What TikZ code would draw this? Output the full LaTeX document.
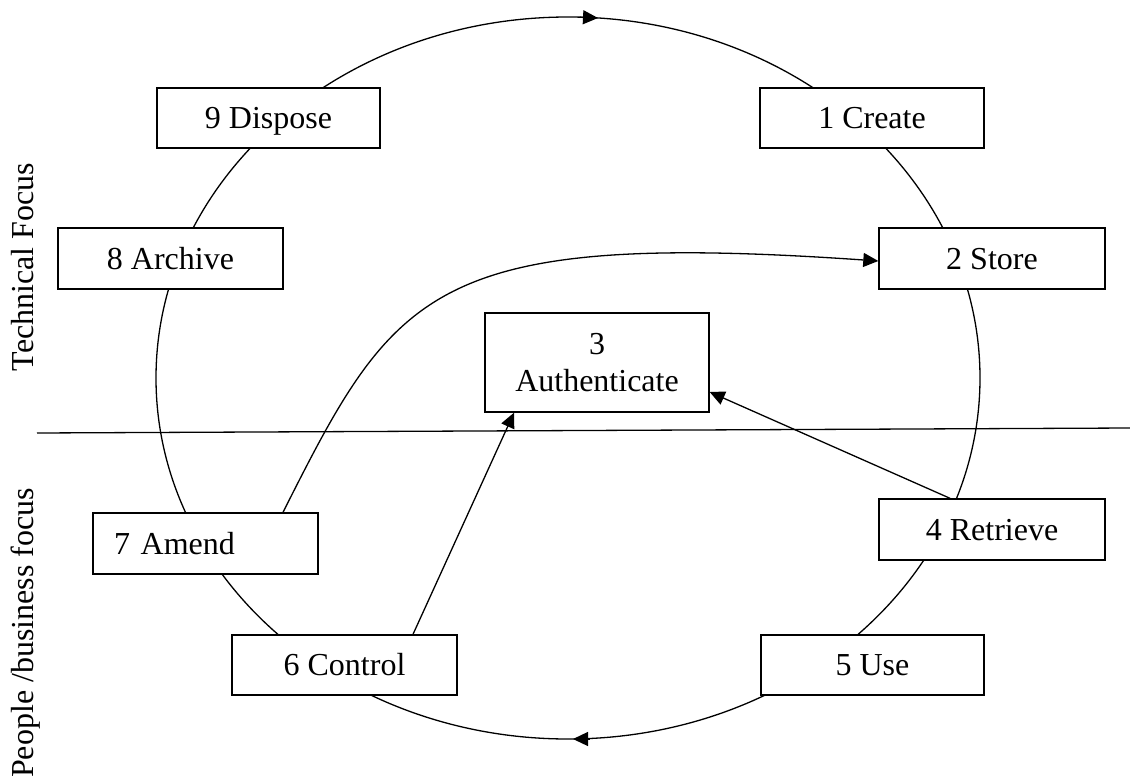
\documentclass[tikz,border=0pt]{standalone}
\usepackage{fontspec}
\setmainfont{Liberation Serif}
\usetikzlibrary{arrows.meta}
\begin{document}
\begin{tikzpicture}[x=1pt,y=-1pt,
  box/.style={draw,line width=1.4pt,fill=white,inner sep=0pt,
    text height=24pt,text depth=3pt,font=\fontsize{32}{37}\selectfont},
  conn/.style={line width=1.3pt,-{Triangle[length=15pt,width=14pt]}},
  ring/.style={line width=1.3pt},
  side/.style={rotate=90,anchor=base,inner sep=0pt,font=\fontsize{32}{37}\selectfont}]
\useasboundingbox (0,0) rectangle (1130,776);
% cycle ring
\draw[ring] (568,378) ellipse [x radius=412pt, y radius=361pt];
\coordinate (ta) at (580,17.1);
\coordinate (tb) at (598,18);
\draw[conn] (ta) -- (tb);
\coordinate (ba) at (590,739);
\coordinate (bb) at (573,739);
\draw[conn] (ba) -- (bb);
% divider
\coordinate (dl) at (37,433);
\coordinate (dr) at (1130,428);
\draw[ring] (dl) -- (dr);
% side labels
\node[side] (tech) at (33,267) {Technical Focus};
\node[side] (people) at (33,633) {People /business focus};
% boxes
\node[box,minimum width=223pt,minimum height=60pt] (dispose) at (268.5,118) {9 Dispose};
\node[box,minimum width=224pt,minimum height=60pt] (create) at (872,118) {1 Create};
\node[box,minimum width=225pt,minimum height=61pt] (archive) at (170.5,258.5) {8 Archive};
\node[box,minimum width=226pt,minimum height=61pt] (store) at (992,258.5) {2 Store};
\node[box,text height=,text depth=,align=center,minimum width=224pt,minimum height=99pt] (auth) at (597,362.5) {3\\Authenticate};
\node[box,minimum height=61pt,text width=183pt,inner xsep=21pt,align=left] (amend) at (205.5,543.5) {7 Amend};
\node[box,minimum width=226pt,minimum height=61pt] (retrieve) at (992,529.5) {4 Retrieve};
\node[box,minimum width=225pt,minimum height=60pt] (control) at (344.5,665) {6 Control};
\node[box,minimum width=223pt,minimum height=60pt] (use) at (872.5,665) {5 Use};
% connectors
\draw[conn] ([xshift=77.5pt]amend.north) .. controls (395,290) and (430,230) .. ([yshift=-2.5pt]store.west);
\draw[conn] ([xshift=68.5pt]control.north) -- ([xshift=-83pt]auth.south);
\draw[conn] ([xshift=-42pt]retrieve.north) -- ([yshift=-29.5pt]auth.east);
\end{tikzpicture}
\end{document}
